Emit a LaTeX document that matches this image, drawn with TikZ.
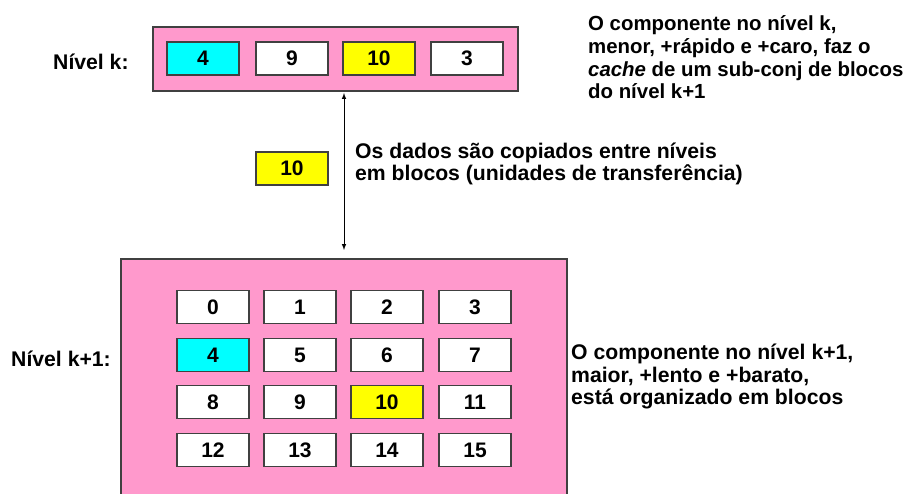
\documentclass[tikz,border=0pt]{standalone}
\usepackage{fontspec}
\setmainfont{Liberation Sans}
\definecolor{levelpink}{HTML}{FF99CC}
\definecolor{edgegray}{HTML}{404040}
\definecolor{hitcyan}{HTML}{00FFFF}
\definecolor{hityellow}{HTML}{FFFF00}
\begin{document}
\begin{tikzpicture}[x=1pt,y=-1pt,>=latex,
  level/.style={draw=edgegray,line width=1.2pt,fill=levelpink,inner sep=0},
  block/.style={draw=edgegray,line width=1.2pt,fill=white,minimum width=72pt,minimum height=33pt,inner sep=0,font=\fontsize{21}{23}\selectfont\bfseries},
  label/.style={inner sep=0,align=left,font=\fontsize{21.2}{22.8}\selectfont\bfseries}]
\useasboundingbox (0,0) rectangle (906,494);
% levels
\node[level, minimum width=365pt, minimum height=64pt] (levk) at (335.5,59) {};
\node[level, minimum width=446pt, minimum height=241pt] (levk1) at (344,379.5) {};
% level k
\node[block, fill=hitcyan] (k4) at (203,58.5) {4};
\node[block] (k9) at (292,58.5) {9};
\node[block, fill=hityellow] (k10) at (379,58.5) {10};
\node[block] (k3) at (467,58.5) {3};
% level k+1
\node[block] (b0) at (213,307) {0};
\node[block] (b1) at (300,307) {1};
\node[block] (b2) at (387,307) {2};
\node[block] (b3) at (475,307) {3};
\node[block, fill=hitcyan] (b4) at (213,355) {4};
\node[block] (b5) at (300,355) {5};
\node[block] (b6) at (387,355) {6};
\node[block] (b7) at (475,355) {7};
\node[block] (b8) at (213,402) {8};
\node[block] (b9) at (300,402) {9};
\node[block, fill=hityellow] (b10) at (387,402) {10};
\node[block] (b11) at (475,402) {11};
\node[block] (b12) at (213,450) {12};
\node[block] (b13) at (300,450) {13};
\node[block] (b14) at (387,450) {14};
\node[block] (b15) at (475,450) {15};
% block being moved
\node[block, fill=hityellow] (moved) at (292,168.5) {10};
\coordinate (up) at (344,93);
\coordinate (down) at (344,250);
\path[draw,line width=1pt,<->] (up) -- (down);
% texts (base = last line)
\node[label, anchor=base west] (namek) at (53,70) {Nível k:};
\node[label, anchor=base east] (namek1) at (111,367) {Nível k+1:};
\node[label, anchor=base west, font=\fontsize{20.4}{22.8}\selectfont\bfseries] (notek) at (588,99) {O componente no nível k,\\menor, +rápido e +caro, faz o\\\textit{cache} de um sub-conj de blocos\\do nível k+1};
\node[label, anchor=base west] (notecopy) at (355,181) {Os dados são copiados entre níveis\\em blocos (unidades de transferência)};
\node[label, anchor=base west] (notek1) at (571,405) {O componente no nível k+1,\\maior, +lento e +barato,\\está organizado em blocos};
\end{tikzpicture}
\end{document}
